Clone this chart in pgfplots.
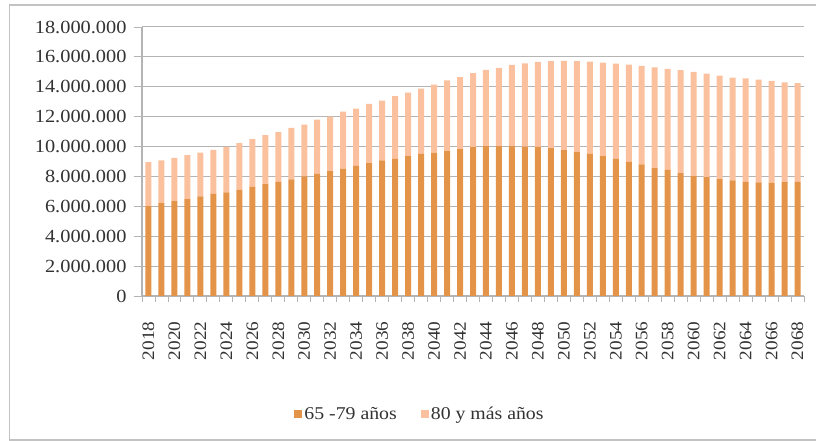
\documentclass[border=0pt]{standalone}
\usepackage{fontspec}
\setmainfont{Liberation Serif}[FakeStretch=1.1]
\usepackage{pgfplots}
\usepackage{pgfplotstable}
\pgfplotsset{compat=1.18}
\definecolor{darkor}{RGB}{227,148,72}
\definecolor{lightor}{RGB}{251,193,158}
\definecolor{gridg}{RGB}{180,180,180}
\pgfplotstableread{
year a b
2018 6020000 2940000
2019 6220000 2850000
2020 6350000 2900000
2021 6480000 2950000
2022 6660000 2940000
2023 6840000 2940000
2024 6930000 3050000
2025 7110000 3120000
2026 7310000 3180000
2027 7490000 3270000
2028 7640000 3320000
2029 7800000 3450000
2030 8000000 3470000
2031 8180000 3630000
2032 8360000 3650000
2033 8530000 3810000
2034 8710000 3830000
2035 8890000 3970000
2036 9070000 4010000
2037 9180000 4190000
2038 9360000 4250000
2039 9510000 4370000
2040 9600000 4550000
2041 9690000 4730000
2042 9830000 4810000
2043 9960000 4950000
2044 10030000 5100000
2045 10030000 5230000
2046 10030000 5430000
2047 10000000 5570000
2048 9980000 5680000
2049 9890000 5820000
2050 9760000 5970000
2051 9630000 6080000
2052 9510000 6180000
2053 9360000 6260000
2054 9180000 6370000
2055 8980000 6510000
2056 8800000 6600000
2057 8560000 6730000
2058 8440000 6760000
2059 8220000 6890000
2060 8020000 6980000
2061 7950000 6930000
2062 7820000 6930000
2063 7730000 6890000
2064 7640000 6930000
2065 7600000 6880000
2066 7580000 6810000
2067 7620000 6680000
2068 7640000 6600000
}\datatable
\begin{document}
\begin{tikzpicture}[x=1pt,y=1pt]
\useasboundingbox (0,0) rectangle (816,441);
\draw[gridg!80!white, line width=1.3pt] (9.5,1) rectangle (830,436);
\begin{axis}[
  at={(142pt,145pt)}, anchor=south west,
  scale only axis, width=662pt, height=269pt,
  ybar stacked, bar width=6pt,
  xmin=2017.5, xmax=2068.5,
  ymin=0, ymax=18000000,
  ytick={0,2000000,...,18000000},
  xtick={2018,2020,...,2068},
  minor xtick={2017.5,2018.5,...,2068.5},
  major x tick style={draw=none},
  minor x tick style={gridg, line width=0.9pt},
  minor tick length=6pt,
  major tick length=8pt,
  tick align=outside,
  y tick style={gridg, line width=0.9pt},
  ymajorgrids, grid style={gridg, line width=1pt},
  axis lines*=left,
  axis line style={gridg, line width=1.2pt},
  scaled y ticks=false,
  yticklabel style={font=\fontsize{18.5}{21}\selectfont, /pgf/number format/.cd, fixed, 1000 sep={.}, assume math mode=true},
  xticklabel style={font=\fontsize{17.5}{20}\selectfont, rotate=90, anchor=east, /pgf/number format/.cd, 1000 sep={}, assume math mode=true},
  xticklabel shift=14pt,
  yticklabel shift=4pt,
  tick label style={text=black!80},
  legend style={at={(0.42,-0.44)}, anchor=center, draw=none, legend columns=2,
    font=\fontsize{18}{21}\selectfont, text=black!80,
    /tikz/every even column/.append style={column sep=22pt}},
  legend image code/.code={\fill[#1,draw=none] (0pt,-4pt) rectangle (8pt,4pt);},
]
\addplot[fill=darkor, draw=none] table[x=year,y=a]{\datatable};
\addplot[fill=lightor, draw=none] table[x=year,y=b]{\datatable};
\legend{65 -79 años, 80 y más años}
\end{axis}
\end{tikzpicture}
\end{document}
